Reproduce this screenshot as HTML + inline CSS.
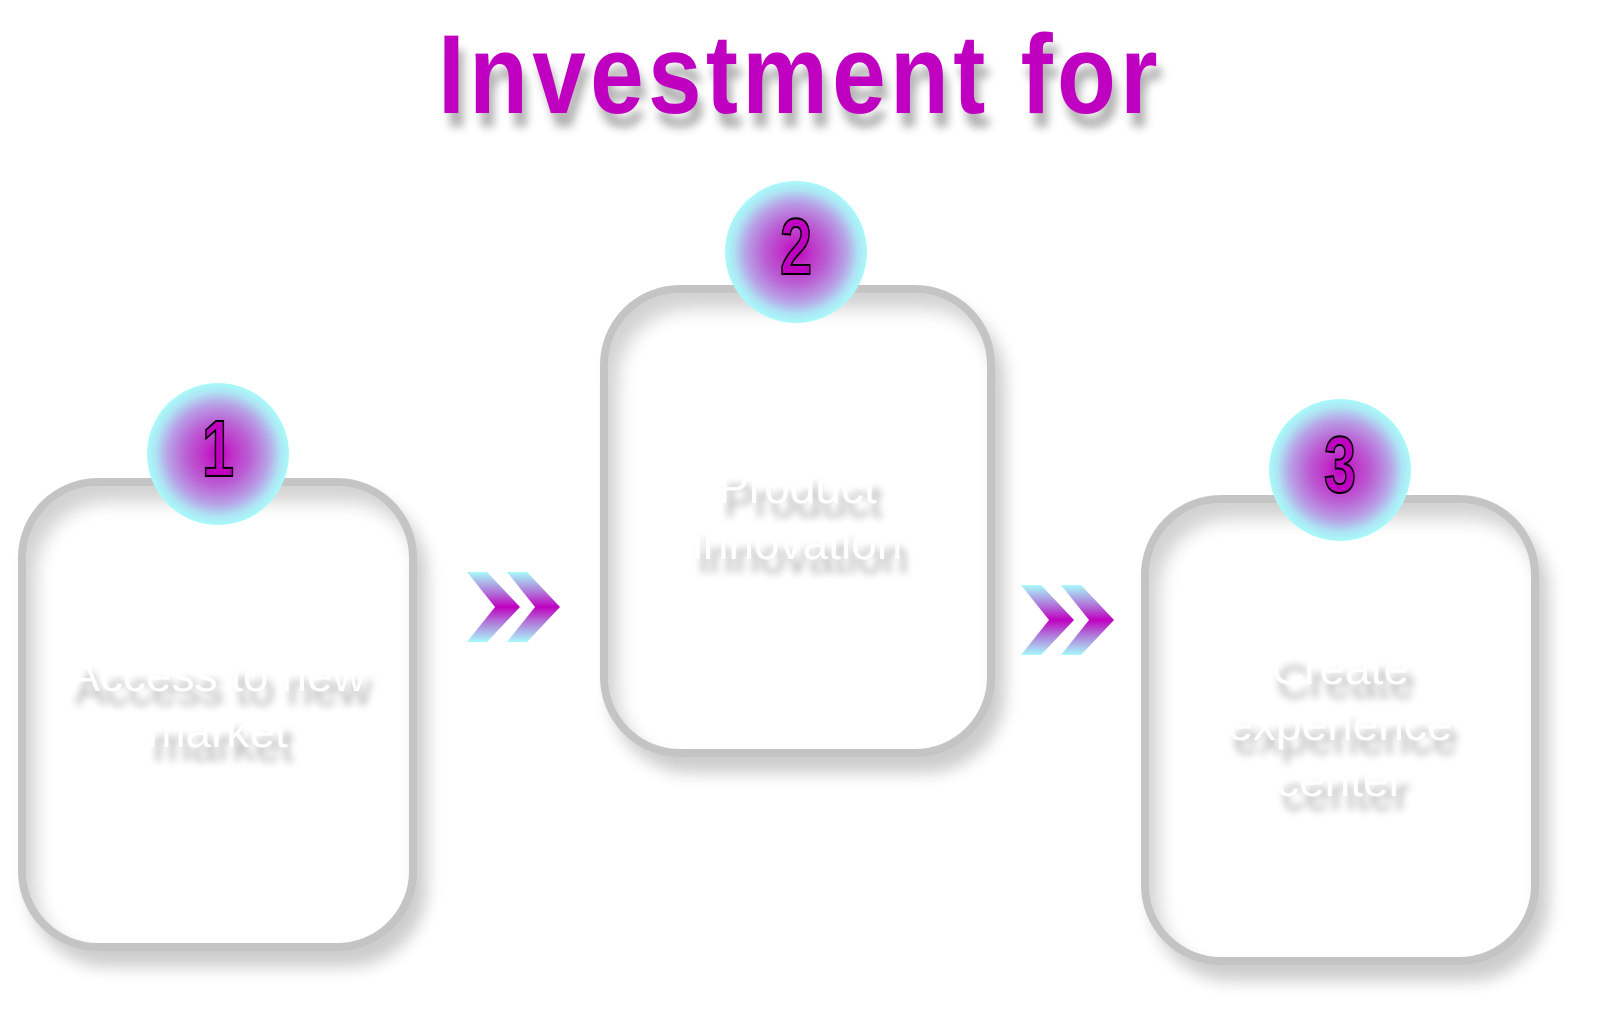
<!DOCTYPE html>
<html><head><meta charset="utf-8"><style>
html,body{margin:0;padding:0;background:#fff;}
body{width:1600px;height:1031px;position:relative;overflow:hidden;font-family:"Liberation Sans Narrow","Liberation Sans",sans-serif;}
.title{position:absolute;left:0;width:1600px;top:10px;text-align:center;font-size:112px;font-weight:bold;color:#c000c0;letter-spacing:5px;text-shadow:6px 14px 10px rgba(0,0,0,0.3);transform:scaleX(0.86);}
.box{position:absolute;border:8px solid #c4c4c4;border-radius:80px;box-shadow:10px 16px 16px rgba(0,0,0,0.2), inset 10px 16px 18px rgba(0,0,0,0.18);box-sizing:border-box;background:#fff;}
.circ{position:absolute;width:142px;height:142px;border-radius:50%;background:radial-gradient(circle closest-side,#c000c0 0%,#c030c8 20%,#bb60d4 45%,#b8a0e6 70%,#aee4f4 88%,#a8fafa 100%);}
.num{position:absolute;width:142px;text-align:center;top:26px;font-size:80px;font-weight:bold;color:#c000c0;-webkit-text-stroke:2px #000;line-height:1;transform:scaleX(0.72);}
.txt{position:absolute;text-align:center;color:#fff;font-size:46px;line-height:56px;text-shadow:6px 14px 8px rgba(0,0,0,0.3);}
</style></head><body>
<div class="title">Investment for</div>

<div class="box" style="left:18px;top:478px;width:399px;height:473px;"></div>
<div class="box" style="left:600px;top:285px;width:395px;height:472px;"></div>
<div class="box" style="left:1141px;top:495px;width:398px;height:470px;"></div>

<div class="circ" style="left:147px;top:383px;"><div class="num">1</div></div>
<div class="circ" style="left:725px;top:181px;"><div class="num">2</div></div>
<div class="circ" style="left:1269px;top:399px;"><div class="num">3</div></div>

<div class="txt" style="left:18px;width:399px;top:647px;">Access to new<br>market</div>
<div class="txt" style="left:600px;width:395px;top:459px;">Product<br>innovation</div>
<div class="txt" style="left:1141px;width:398px;top:640px;">Create<br>experience<br>center</div>

<svg width="1600" height="1031" style="position:absolute;left:0;top:0" xmlns="http://www.w3.org/2000/svg">
<defs>
<linearGradient id="g" x1="0" y1="0" x2="0" y2="1">
<stop offset="0" stop-color="#a8fafa"/><stop offset="0.3" stop-color="#b070d8"/><stop offset="0.5" stop-color="#c000c0"/><stop offset="0.7" stop-color="#b070d8"/><stop offset="1" stop-color="#a8fafa"/>
</linearGradient>
</defs>
<g transform="translate(467,572)">
<polygon points="0,0 20,0 53,35 20,70 0,70 28,35" fill="url(#g)"/>
<polygon points="40,0 60,0 93,35 60,70 40,70 68,35" fill="url(#g)"/>
</g>
<g transform="translate(1021,585)">
<polygon points="0,0 20,0 53,35 20,70 0,70 28,35" fill="url(#g)"/>
<polygon points="40,0 60,0 93,35 60,70 40,70 68,35" fill="url(#g)"/>
</g>
</svg>
</body></html>
